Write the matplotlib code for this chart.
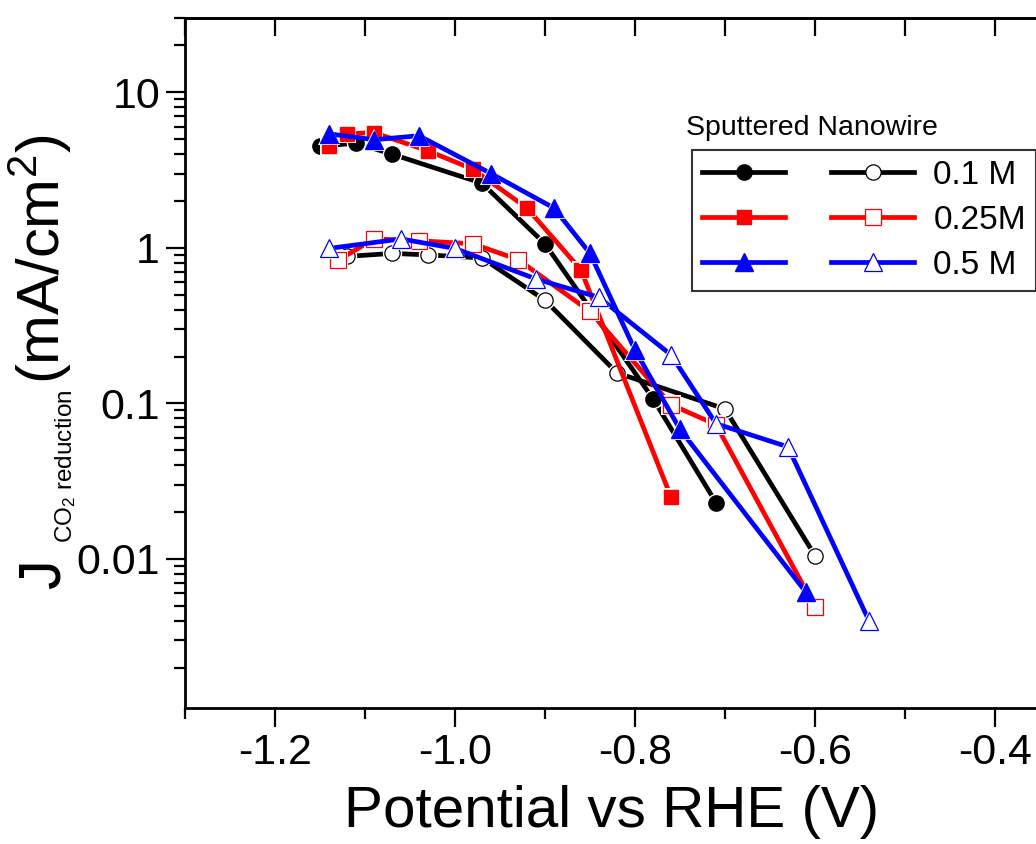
import numpy as np
import matplotlib
matplotlib.use("Agg")
import matplotlib.pyplot as plt
from matplotlib.lines import Line2D
from matplotlib.ticker import MultipleLocator, FixedLocator, LogLocator, NullFormatter, FuncFormatter

plt.rcParams['font.family'] = ['Liberation Sans', 'DejaVu Sans']
plt.rcParams['axes.unicode_minus'] = False
plt.rcParams['mathtext.default'] = 'regular'

# filled symbols
x_01_fill = [-1.15, -1.11, -1.07, -0.97, -0.90, -0.78, -0.71]
y_01_fill = [4.5, 4.7, 4.0, 2.6, 1.06, 0.107, 0.023]
x_025_fill = [-1.14, -1.12, -1.09, -1.03, -0.98, -0.92, -0.86, -0.76]
y_025_fill = [4.5, 5.4, 5.5, 4.2, 3.2, 1.8, 0.72, 0.025]
x_05_fill = [-1.14, -1.09, -1.04, -0.96, -0.89, -0.85, -0.80, -0.75, -0.61]
y_05_fill = [5.4, 4.95, 5.25, 3.0, 1.8, 0.92, 0.22, 0.068, 0.0061]

# open symbols
x_01_open = [-1.12, -1.07, -1.03, -0.97, -0.90, -0.82, -0.70, -0.60]
y_01_open = [0.88, 0.92, 0.90, 0.86, 0.46, 0.157, 0.092, 0.0105]
x_025_open = [-1.13, -1.09, -1.04, -0.98, -0.93, -0.85, -0.76, -0.71, -0.60]
y_025_open = [0.83, 1.14, 1.11, 1.06, 0.84, 0.39, 0.098, 0.073, 0.0049]
x_05_open = [-1.14, -1.06, -1.00, -0.91, -0.84, -0.76, -0.71, -0.63, -0.54]
y_05_open = [0.99, 1.14, 0.99, 0.63, 0.48, 0.205, 0.074, 0.0525, 0.0040]

labels = ['0.1 M', '0.25M', '0.5 M']

W, H = 1036, 844
fig = plt.figure(figsize=(W / 100, H / 100), dpi=100)
ax = fig.add_axes([185 / W, (H - 708) / H, 900 / W, 690 / H])

lw = 3.4
series = [
    (x_01_fill, y_01_fill, 'black', 'o', 11, True),
    (x_01_open, y_01_open, 'black', 'o', 11, False),
    (x_025_fill, y_025_fill, 'red', 's', 10.5, True),
    (x_025_open, y_025_open, 'red', 's', 11, False),
    (x_05_fill, y_05_fill, 'blue', '^', 12.5, True),
    (x_05_open, y_05_open, 'blue', '^', 13, False),
]
z = 2
for xs, ys, c, m, ms, filled in series:
    ax.plot(xs, ys, color=c, lw=lw, zorder=z, solid_capstyle='butt')
    # small gap round the symbols, like Origin
    ax.plot(xs, ys, ls='none', marker=m, ms=ms + 3, mfc='white', mec='white', mew=0, zorder=z + 0.1)
    ax.plot(xs, ys, ls='none', marker=m, ms=ms, mfc=c if filled else 'white',
            mec=c, mew=1.0 if filled else 0.9, zorder=z + 0.2)
    z += 1

ax.set_yscale('log')
ax.set_xlim(-1.3, -0.3)
ax.set_ylim(0.0011, 30)

ax.xaxis.set_major_locator(MultipleLocator(0.2))
ax.xaxis.set_minor_locator(MultipleLocator(0.1))
ax.xaxis.set_major_formatter(FuncFormatter(lambda v, p: '%.1f' % v))
ax.yaxis.set_major_locator(FixedLocator([0.01, 0.1, 1, 10]))
ax.yaxis.set_minor_locator(LogLocator(base=10, subs=np.arange(2, 10)))
ax.yaxis.set_minor_formatter(NullFormatter())
ax.yaxis.set_major_formatter(FuncFormatter(lambda v, p: '%g' % v))

ax.tick_params(axis='both', which='major', direction='out', length=14, width=1.6,
               labelsize=31, pad=4)
ax.tick_params(axis='both', which='minor', direction='out', length=8, width=1.6)
ax.tick_params(right=False, top=False)
for s in ax.spines.values():
    s.set_linewidth(2)

top = ax.secondary_xaxis('top')
top.xaxis.set_major_locator(MultipleLocator(0.2))
top.xaxis.set_minor_locator(MultipleLocator(0.1))
top.tick_params(which='both', direction='in', length=13, width=1.6, labeltop=False)
top.spines['top'].set_linewidth(2)

ax.set_xlabel('Potential vs RHE (V)', fontsize=42, labelpad=8.5)
ax.xaxis.label.set_x(0.474)

# y label pieces: big J, small subscript, big units
fig.text(60 / W, 1 - 574 / H, 'J', fontsize=43, rotation=90, rotation_mode='anchor',
         ha='center', va='baseline')
fig.text(72 / W, 1 - 466 / H, 'CO$_2$ reduction', fontsize=17.5, rotation=90,
         rotation_mode='anchor', ha='center', va='baseline')
fig.text(60 / W, 1 - 259 / H, '(mA/cm$^2$)', fontsize=43, rotation=90,
         rotation_mode='anchor', ha='center', va='baseline')

# legend: filled column, open column, one label per row
handles = []
for c, m, ms in [('black', 'o', 11), ('red', 's', 10.5), ('blue', '^', 12.5)]:
    handles.append(Line2D([], [], color=c, lw=lw, marker=m, ms=ms, mfc=c, mec=c))
for c, m, ms in [('black', 'o', 11), ('red', 's', 11), ('blue', '^', 13)]:
    handles.append(Line2D([], [], color=c, lw=lw, marker=m, ms=ms, mfc='white', mec=c, mew=0.9))
leg = ax.legend(handles, ['', '', ''] + labels, ncol=2, loc='upper left',
                bbox_to_anchor=(692 / W, 1 - 150 / H), bbox_transform=fig.transFigure,
                fontsize=24, handlelength=2.5, handletextpad=0.57, columnspacing=0.8,
                labelspacing=0.42, borderpad=0.3, borderaxespad=0, frameon=True,
                fancybox=False, framealpha=1, edgecolor='#333333')
leg.get_frame().set_linewidth(1.5)
fig.text(686 / W, 1 - 135 / H, 'Sputtered Nanowire', fontsize=20.5, va='baseline')

fig.savefig('out.png', dpi=100)
